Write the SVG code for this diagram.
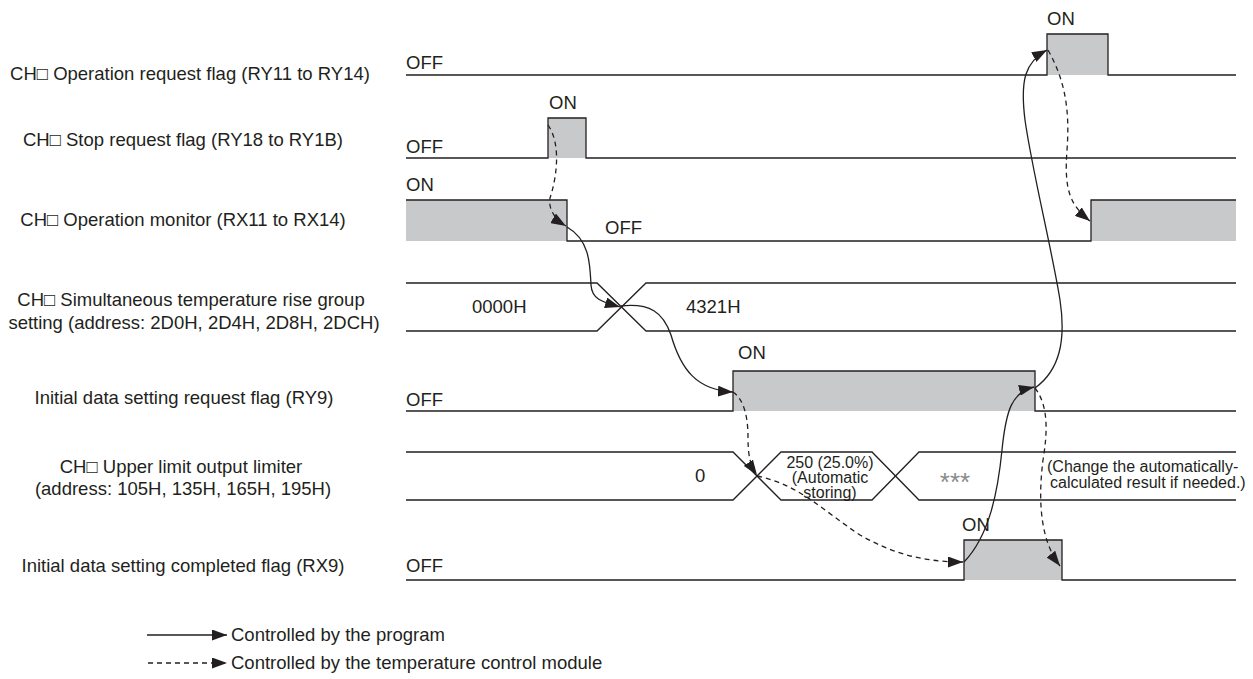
<svg xmlns="http://www.w3.org/2000/svg" width="1253" height="679" viewBox="0 0 1253 679">
<style>
text{font-family:"Liberation Sans",Arial,sans-serif;fill:#231f20}
.lbl{font-size:18.5px;text-anchor:middle}
.st{font-size:18.5px}
.sm{font-size:16px}
.smc{font-size:16px;text-anchor:middle}
.wave{fill:none;stroke:#231f20;stroke-width:1.3}
.fill{fill:#c8c9cb;stroke:none}
.solid{fill:none;stroke:#231f20;stroke-width:1.3}
.dash{fill:none;stroke:#231f20;stroke-width:1.3;stroke-dasharray:5,4}
</style>
<defs>
<marker id="ah" markerWidth="15" markerHeight="11" refX="15" refY="5.5" orient="auto" markerUnits="userSpaceOnUse">
<path d="M0,0 L15,5.5 L0,11 z" fill="#231f20"/>
</marker>
</defs>
<rect width="1253" height="679" fill="#fff"/>

<g id="row1">
<text class="lbl" x="190" y="80">CH□ Operation request flag (RY11 to RY14)</text>
<rect class="fill" x="1047" y="34" width="61" height="41"/>
<polyline class="wave" points="406,75 1047,75 1047,34 1108,34 1108,75 1236,75"/>
<text class="st" x="406" y="69">OFF</text>
<text class="st" x="1047" y="25">ON</text>
</g>

<g id="row2">
<text class="lbl" x="183" y="146">CH□ Stop request flag (RY18 to RY1B)</text>
<rect class="fill" x="548" y="118" width="38" height="40"/>
<polyline class="wave" points="406,158 548,158 548,118 586,118 586,158 1236,158"/>
<text class="st" x="406" y="153">OFF</text>
<text class="st" x="549" y="109">ON</text>
</g>

<g id="row3">
<text class="lbl" x="183" y="226">CH□ Operation monitor (RX11 to RX14)</text>
<rect class="fill" x="406" y="200" width="161" height="41"/>
<rect class="fill" x="1091" y="200" width="145" height="41"/>
<polyline class="wave" points="406,200 567,200 567,241 1091,241 1091,200 1236,200"/>
<text class="st" x="406" y="191">ON</text>
<text class="st" x="605" y="234">OFF</text>
</g>

<g id="row4">
<text class="lbl" x="191" y="306">CH□ Simultaneous temperature rise group</text>
<text class="lbl" x="194" y="329">setting (address: 2D0H, 2D4H, 2D8H, 2DCH)</text>
<polyline class="wave" points="406,283 597,283 646,331 1236,331"/>
<polyline class="wave" points="406,331 597,331 646,283 1236,283"/>
<text class="st" x="472" y="313">0000H</text>
<text class="st" x="686" y="313">4321H</text>
</g>

<g id="row5">
<text class="lbl" x="184" y="404">Initial data setting request flag (RY9)</text>
<rect class="fill" x="733" y="371" width="302" height="40"/>
<polyline class="wave" points="406,411 733,411 733,371 1035,371 1035,411 1236,411"/>
<text class="st" x="406" y="406">OFF</text>
<text class="st" x="738" y="359">ON</text>
</g>

<g id="row6">
<text class="lbl" x="181" y="473">CH□ Upper limit output limiter</text>
<text class="lbl" x="183" y="495">(address: 105H, 135H, 165H, 195H)</text>
<polyline class="wave" points="406,452 733,452 781,500 872,500 919,452 1236,452"/>
<polyline class="wave" points="406,500 733,500 781,452 872,452 919,500 1236,500"/>
<text class="st" x="695" y="482">0</text>
<text class="smc" x="830" y="468">250 (25.0%)</text>
<text class="smc" x="830" y="483">(Automatic</text>
<text class="smc" x="830" y="498">storing)</text>
<text class="smc" x="955" y="491" style="font-size:26px;fill:#8a8a8a">***</text>
<text class="sm" x="1047" y="472">(Change the automatically-</text>
<text class="sm" x="1050" y="488">calculated result if needed.)</text>
</g>

<g id="row7">
<text class="lbl" x="183" y="572">Initial data setting completed flag (RX9)</text>
<rect class="fill" x="964" y="540" width="98" height="40"/>
<polyline class="wave" points="406,580 964,580 964,540 1062,540 1062,580 1236,580"/>
<text class="st" x="406" y="572">OFF</text>
<text class="st" x="962" y="531">ON</text>
</g>

<g id="connectors">
<path class="dash" marker-end="url(#ah)" d="M548,125 C562,145 556,180 550,198 C548,210 556,220 566,226"/>
<path class="solid" marker-end="url(#ah)" d="M567,227 C590,240 590,265 591,285 C592,300 603,302 620,307"/>
<path class="solid" marker-end="url(#ah)" d="M621,306 C650,303 663,312 671,335 C681,370 697,390 733,392"/>
<path class="dash" marker-end="url(#ah)" d="M733,392 C745,400 748,420 748,437 C748,455 750,465 757,475"/>
<path class="dash" marker-end="url(#ah)" d="M757,476 C800,485 822,510 860,535 C890,552 920,562 963,562"/>
<path class="solid" marker-end="url(#ah)" d="M964,562 C990,535 998,490 1002,450 C1006,410 1012,392 1034,387"/>
<path class="solid" marker-end="url(#ah)" d="M1035,388 C1060,370 1066,340 1060,300 C1052,250 1032,170 1025,120 C1020,80 1025,62 1047,50"/>
<path class="dash" marker-end="url(#ah)" d="M1048,50 C1065,80 1070,110 1067,150 C1064,190 1070,205 1090,221"/>
<path class="dash" marker-end="url(#ah)" d="M1035,388 C1048,405 1048,430 1043,460 C1038,500 1040,540 1060,566"/>
</g>

<g id="legend">
<path class="solid" marker-end="url(#ah)" d="M147,635 H227"/>
<text class="st" x="231" y="641">Controlled by the program</text>
<path class="dash" marker-end="url(#ah)" d="M148,663 H227"/>
<text class="st" x="231" y="669">Controlled by the temperature control module</text>
</g>
</svg>
